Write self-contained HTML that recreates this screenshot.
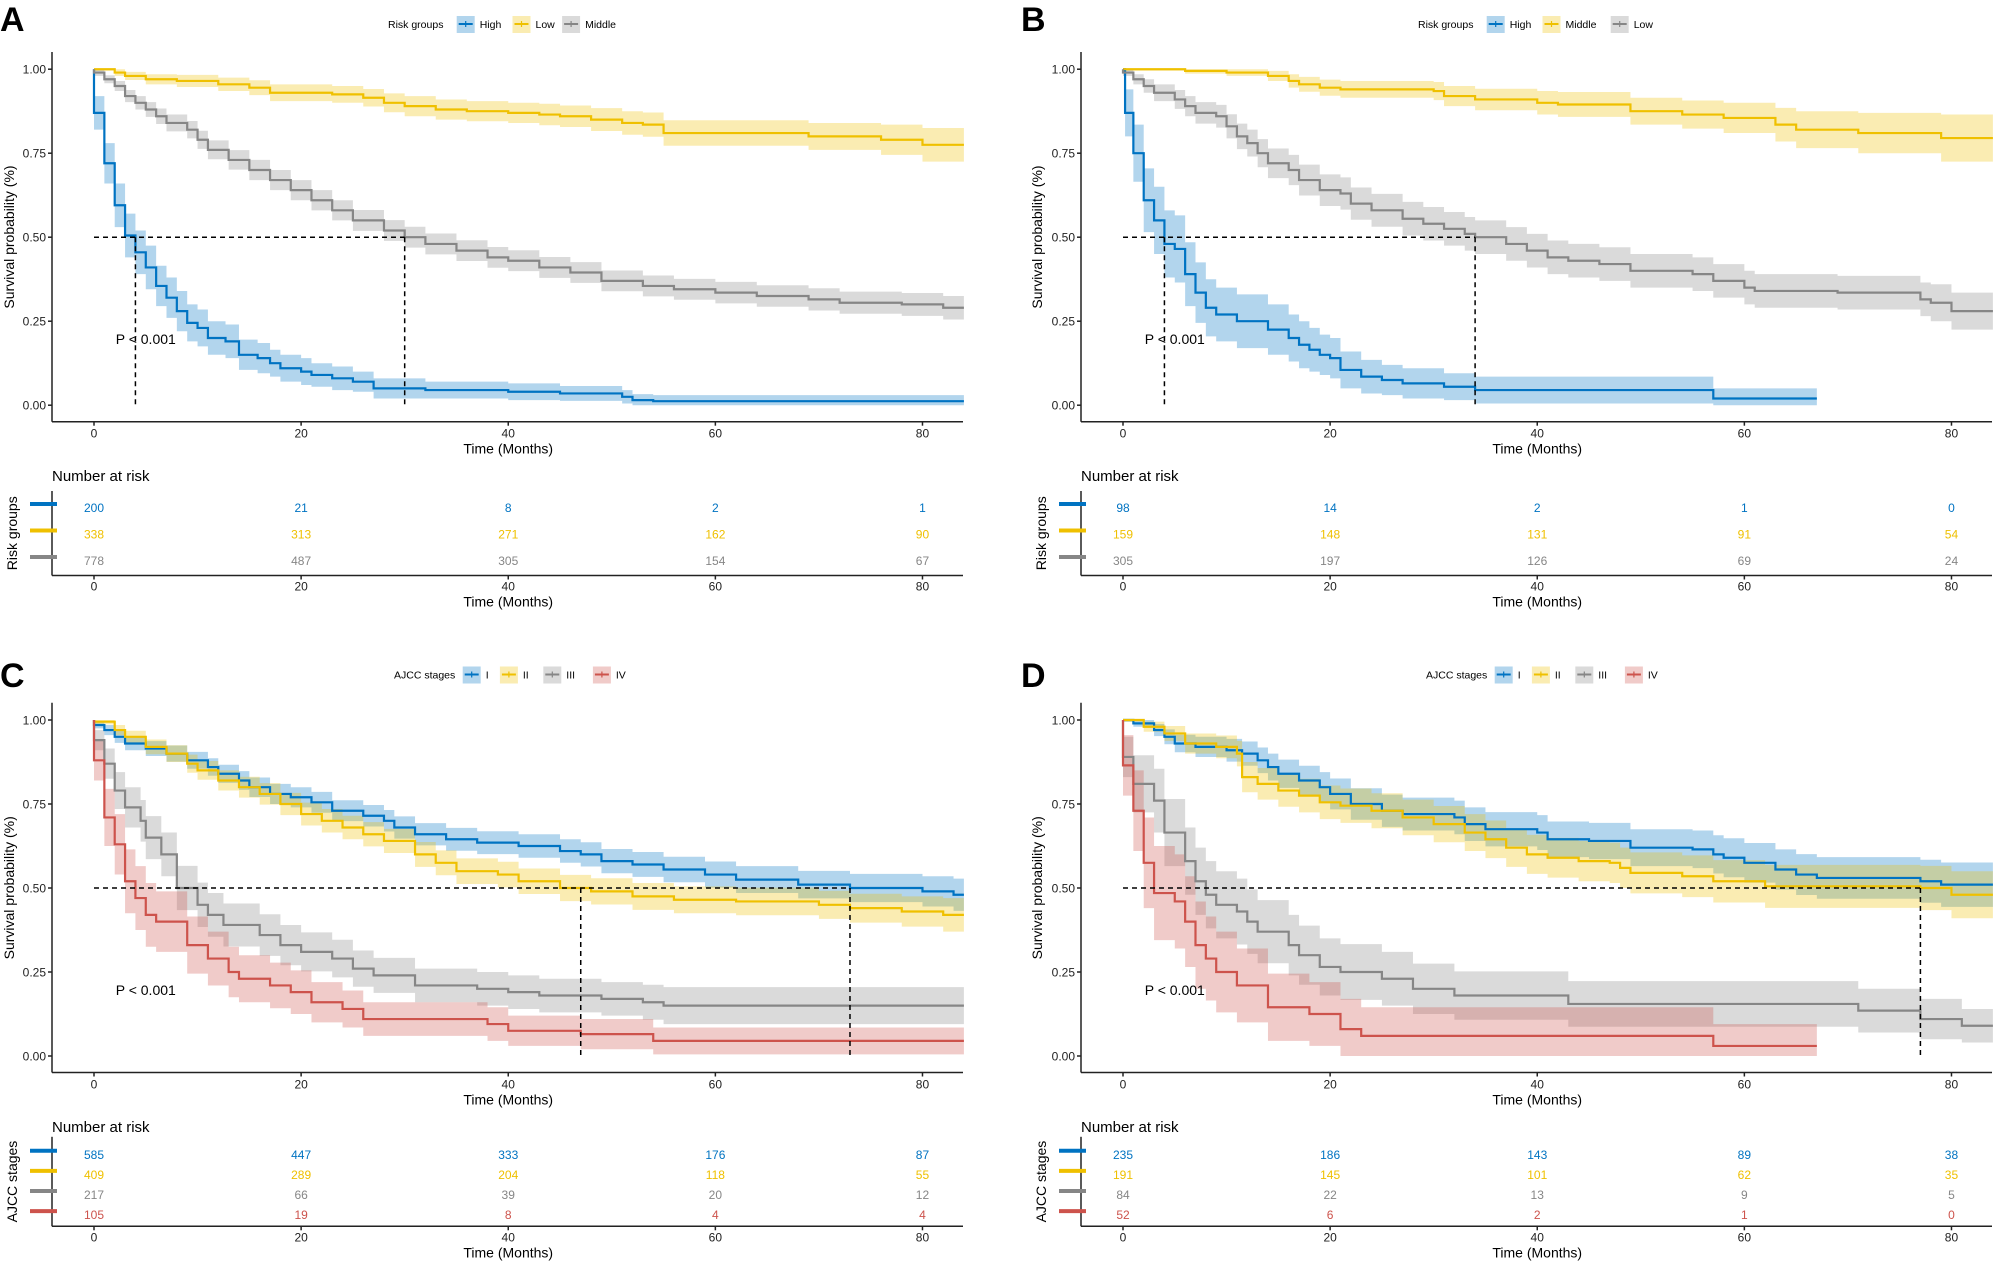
<!DOCTYPE html>
<html><head><meta charset="utf-8">
<style>
html,body{margin:0;padding:0;background:#fff;}
svg{display:block;font-family:"Liberation Sans",Arial,sans-serif;}
</style></head>
<body>
<svg id="fig" width="1994" height="1262" viewBox="0 0 1994 1262" xmlns="http://www.w3.org/2000/svg"></svg>
<script>
// ---------- DATA ----------
const timeTicks=[0,20,40,60,80];
const survTicks=[0,0.25,0.5,0.75,1];
const survTickLabels=["0.00","0.25","0.50","0.75","1.00"];
// Panel A
const aHighT=[0,1,2,3,4,5,6,7,8,9,10,11,12.7,14,15.8,17,18,20,21,23,25,27,32,40,45,51,52,54,84];
const aHighS=[0.87,0.72,0.595,0.505,0.455,0.41,0.355,0.32,0.28,0.245,0.23,0.2,0.19,0.15,0.14,0.125,0.11,0.1,0.09,0.08,0.07,0.05,0.045,0.04,0.035,0.025,0.015,0.012,0.012];
const aHighCI=[0.05,0.06,0.065,0.065,0.065,0.065,0.06,0.06,0.06,0.055,0.055,0.05,0.05,0.045,0.045,0.04,0.04,0.04,0.035,0.035,0.03,0.03,0.025,0.025,0.022,0.02,0.018,0.018,0.018];
const aLowT=[0,2,3,5,8,12,15,17,23,26,28,30,33,36,40,43,45,48,51,53,55,69,76,80,84];
const aLowS=[1,0.99,0.98,0.97,0.965,0.955,0.945,0.93,0.925,0.915,0.9,0.89,0.88,0.875,0.87,0.865,0.86,0.85,0.84,0.835,0.81,0.8,0.79,0.775,0.775];
const aLowCI=[0.005,0.01,0.012,0.015,0.018,0.02,0.022,0.025,0.025,0.026,0.028,0.03,0.03,0.03,0.03,0.032,0.032,0.034,0.035,0.036,0.038,0.04,0.045,0.05,0.05];
const aMidT=[0,1,2,3,4,5,6,7,9,10,11,13,15,17,19,21,23,25,28,30,32,35,38,40,43,46,49,53,56,60,64,69,72,78,82,84];
const aMidS=[0.99,0.97,0.95,0.92,0.9,0.88,0.86,0.84,0.82,0.79,0.76,0.73,0.7,0.67,0.64,0.61,0.58,0.55,0.52,0.5,0.48,0.46,0.44,0.43,0.41,0.395,0.37,0.355,0.345,0.335,0.325,0.315,0.305,0.3,0.29,0.29];
const aMidCI=[0.01,0.012,0.015,0.018,0.02,0.022,0.023,0.025,0.026,0.027,0.028,0.029,0.03,0.03,0.03,0.03,0.03,0.031,0.031,0.031,0.031,0.031,0.031,0.031,0.031,0.031,0.031,0.031,0.031,0.032,0.032,0.033,0.033,0.034,0.035,0.035];
const aRiskHigh=[200,21,8,2,1], aRiskLow=[338,313,271,162,90], aRiskMid=[778,487,305,154,67];
// Panel B
const bHighT=[0,0.2,1,2,3,4,5,6,7,8,9,11,14,16,17,18,19,20,21,23,25,27,31,34,57,67];
const bHighS=[1,0.87,0.75,0.61,0.55,0.48,0.465,0.39,0.335,0.29,0.27,0.25,0.225,0.2,0.18,0.165,0.15,0.14,0.105,0.085,0.075,0.065,0.055,0.045,0.02,0.02];
const bHighCI=[0,0.07,0.085,0.095,0.1,0.1,0.1,0.095,0.09,0.085,0.08,0.08,0.075,0.07,0.07,0.065,0.06,0.06,0.055,0.05,0.045,0.045,0.04,0.04,0.03,0.03];
const bMidT=[0,6,10,14,16,17,19,21,30,31,34,40,42,49,54,58,63,65,71,79,84];
const bMidS=[1,0.995,0.99,0.98,0.965,0.955,0.945,0.94,0.935,0.92,0.91,0.9,0.895,0.875,0.865,0.855,0.835,0.82,0.81,0.795,0.795];
const bMidCI=[0.005,0.008,0.01,0.015,0.02,0.022,0.024,0.025,0.027,0.03,0.032,0.035,0.037,0.04,0.042,0.045,0.05,0.055,0.06,0.07,0.07];
const bLowT=[0,1,2,3,5,6,7,9,10,11,12,13,14,16,17,19,21,22,24,27,29,31,33,34,37,39,41,43,46,49,55,57,60,61,69,77,78,80,84];
const bLowS=[0.99,0.97,0.95,0.93,0.91,0.89,0.87,0.86,0.83,0.8,0.78,0.75,0.72,0.7,0.67,0.64,0.63,0.6,0.58,0.555,0.54,0.525,0.51,0.5,0.48,0.46,0.44,0.43,0.42,0.4,0.39,0.37,0.35,0.34,0.335,0.315,0.305,0.28,0.28];
const bLowCI=[0.01,0.015,0.02,0.025,0.028,0.03,0.032,0.034,0.036,0.038,0.04,0.042,0.044,0.045,0.046,0.047,0.048,0.048,0.049,0.05,0.05,0.05,0.05,0.05,0.05,0.05,0.05,0.05,0.05,0.05,0.05,0.05,0.05,0.05,0.05,0.05,0.055,0.055,0.055];
const bRiskHigh=[98,14,2,1,0], bRiskMid=[159,148,131,91,54], bRiskLow=[305,197,126,69,24];
// Panel C
const cIT=[0,1,2,3,5,7,9,11,12,14,15,17,19,21,23,26,28,29,31,34,37,41,45,47,49,52,55,59,62,68,73,80,83,84];
const cIS=[0.985,0.97,0.95,0.93,0.915,0.9,0.88,0.86,0.84,0.82,0.8,0.78,0.77,0.755,0.73,0.715,0.7,0.68,0.66,0.645,0.635,0.625,0.61,0.6,0.58,0.57,0.555,0.54,0.525,0.51,0.5,0.49,0.48,0.48];
const cICI=[0.01,0.015,0.018,0.02,0.022,0.024,0.025,0.026,0.027,0.028,0.029,0.03,0.03,0.031,0.031,0.032,0.032,0.033,0.033,0.034,0.034,0.035,0.035,0.036,0.036,0.037,0.038,0.039,0.04,0.041,0.042,0.045,0.048,0.048];
const cIIT=[0,2,3,5,7,9,10,12,14,16,18,20,22,24,26,28,31,33,35,39,41,45,48,52,56,62,70,73,78,82,84];
const cIIS=[0.995,0.97,0.95,0.92,0.9,0.87,0.85,0.82,0.8,0.78,0.75,0.72,0.7,0.68,0.66,0.64,0.6,0.575,0.55,0.54,0.52,0.5,0.49,0.475,0.465,0.46,0.45,0.44,0.43,0.42,0.42];
const cIICI=[0.008,0.015,0.018,0.022,0.025,0.027,0.028,0.03,0.031,0.032,0.033,0.034,0.035,0.035,0.036,0.036,0.037,0.037,0.038,0.038,0.038,0.039,0.039,0.04,0.04,0.041,0.042,0.043,0.045,0.05,0.05];
const cIIIT=[0,1,2,3,4.5,5,6.5,8,10,11,12.5,16,18,20,23,25,27,31,37,40,43,49,53,55,84];
const cIIIS=[0.94,0.87,0.79,0.74,0.7,0.65,0.6,0.5,0.45,0.42,0.39,0.36,0.33,0.31,0.29,0.26,0.24,0.21,0.2,0.19,0.18,0.17,0.16,0.15,0.15];
const cIIICI=[0.03,0.045,0.055,0.06,0.062,0.064,0.065,0.066,0.066,0.065,0.064,0.062,0.06,0.058,0.056,0.054,0.052,0.05,0.05,0.05,0.05,0.05,0.052,0.055,0.06];
const cIVT=[0,1,2,3,4,5,6,9,11,13,14,17,19,21,24,26,38,40,47,54,84];
const cIVS=[0.88,0.71,0.63,0.52,0.47,0.42,0.4,0.33,0.29,0.25,0.23,0.21,0.19,0.16,0.14,0.11,0.095,0.075,0.065,0.045,0.045];
const cIVCI=[0.06,0.085,0.09,0.095,0.095,0.095,0.09,0.085,0.08,0.075,0.07,0.068,0.065,0.06,0.055,0.05,0.05,0.045,0.045,0.04,0.04];
const cRiskI=[585,447,333,176,87], cRiskII=[409,289,204,118,55], cRiskIII=[217,66,39,20,12], cRiskIV=[105,19,8,4,4];
// Panel D
const dIT=[0,1,3,4,5,7,10,11.5,13,14,15,17,19,20,22,25,27,32,33,35,40,41,45,49,55,57,58,60,63,65,67,77,79,84];
const dIS=[1,0.99,0.97,0.95,0.93,0.92,0.91,0.9,0.88,0.86,0.84,0.82,0.8,0.78,0.75,0.73,0.72,0.71,0.69,0.675,0.665,0.645,0.64,0.62,0.615,0.6,0.59,0.575,0.555,0.54,0.53,0.52,0.51,0.51];
const dICI=[0.005,0.01,0.018,0.022,0.026,0.03,0.034,0.036,0.038,0.04,0.042,0.044,0.045,0.046,0.047,0.048,0.049,0.05,0.05,0.051,0.052,0.053,0.054,0.055,0.056,0.057,0.058,0.059,0.06,0.061,0.062,0.064,0.066,0.066];
const dIIT=[0,2,4,6,9,11,11.5,13,15,17,19,21,24,27,30,33,35,37,39,41,44,47,48,49,54,57,62,77,80,84];
const dIIS=[1,0.98,0.96,0.93,0.92,0.9,0.83,0.81,0.79,0.775,0.755,0.745,0.73,0.71,0.69,0.665,0.645,0.62,0.6,0.59,0.58,0.575,0.56,0.545,0.535,0.52,0.505,0.5,0.48,0.48];
const dIICI=[0.005,0.015,0.022,0.03,0.034,0.038,0.045,0.047,0.048,0.05,0.05,0.051,0.052,0.053,0.054,0.055,0.056,0.057,0.058,0.059,0.06,0.06,0.06,0.061,0.062,0.063,0.064,0.066,0.07,0.07];
const dIIIT=[0,1,3,4,6,7,8,9,11,12,13,16,17,19,21,25,28,32,43,71,77,81,84];
const dIIIS=[0.89,0.81,0.76,0.665,0.58,0.52,0.48,0.45,0.43,0.4,0.37,0.33,0.3,0.265,0.25,0.23,0.2,0.18,0.155,0.135,0.11,0.09,0.09];
const dIIICI=[0.06,0.085,0.095,0.1,0.1,0.1,0.1,0.1,0.098,0.096,0.094,0.09,0.088,0.085,0.083,0.08,0.075,0.072,0.068,0.065,0.06,0.05,0.05];
const dIVT=[0,1,2,3,5,6,7,8,9,11,14,18,21,23,57,67];
const dIVS=[0.865,0.73,0.575,0.485,0.46,0.4,0.33,0.29,0.25,0.21,0.145,0.125,0.08,0.06,0.03,0.03];
const dIVCI=[0.09,0.12,0.135,0.14,0.14,0.135,0.13,0.125,0.12,0.11,0.1,0.095,0.09,0.085,0.065,0.06];
const dRiskI=[235,186,143,89,38], dRiskII=[191,145,101,62,35], dRiskIII=[84,22,13,9,5], dRiskIV=[52,6,2,1,0];

const BLUE="#0073C2", YEL="#EFC000", GRAY="#868686", RED="#CD534C";
const panels=[
 {id:"a",letter:"A",dx:0,dy:0,legTitle:"Risk groups",legX:388,tableTitle:"Risk groups",
  curves:[{n:"High",t:aHighT,s:aHighS,ci:aHighCI,c:BLUE},{n:"Low",t:aLowT,s:aLowS,ci:aLowCI,c:YEL},{n:"Middle",t:aMidT,s:aMidS,ci:aMidCI,c:GRAY}],
  risk:[aRiskHigh,aRiskLow,aRiskMid],medH:30,medV:[4,30]},
 {id:"b",letter:"B",dx:1029,dy:0,legTitle:"Risk groups",legX:1418,tableTitle:"Risk groups",
  curves:[{n:"High",t:bHighT,s:bHighS,ci:bHighCI,c:BLUE},{n:"Middle",t:bMidT,s:bMidS,ci:bMidCI,c:YEL},{n:"Low",t:bLowT,s:bLowS,ci:bLowCI,c:GRAY}],
  risk:[bRiskHigh,bRiskMid,bRiskLow],medH:34,medV:[4,34]},
 {id:"c",letter:"C",dx:0,dy:650.8,legTitle:"AJCC stages",legX:394,tableTitle:"AJCC stages",
  curves:[{n:"I",t:cIT,s:cIS,ci:cICI,c:BLUE},{n:"II",t:cIIT,s:cIIS,ci:cIICI,c:YEL},{n:"III",t:cIIIT,s:cIIIS,ci:cIIICI,c:GRAY},{n:"IV",t:cIVT,s:cIVS,ci:cIVCI,c:RED}],
  risk:[cRiskI,cRiskII,cRiskIII,cRiskIV],medH:73,medV:[47,73]},
 {id:"d",letter:"D",dx:1029,dy:650.8,legTitle:"AJCC stages",legX:1426,tableTitle:"AJCC stages",
  curves:[{n:"I",t:dIT,s:dIS,ci:dICI,c:BLUE},{n:"II",t:dIIT,s:dIIS,ci:dIICI,c:YEL},{n:"III",t:dIIIT,s:dIIIS,ci:dIIICI,c:GRAY},{n:"IV",t:dIVT,s:dIVS,ci:dIVCI,c:RED}],
  risk:[dRiskI,dRiskII,dRiskIII,dRiskIV],medH:77,medV:[77]}
];

const NS="http://www.w3.org/2000/svg";
const svg=document.getElementById("fig");
function el(tag,attrs,parent,txt){const e=document.createElementNS(NS,tag);for(const k in attrs)e.setAttribute(k,attrs[k]);if(txt!==undefined)e.textContent=txt;(parent||svg).appendChild(e);return e;}

panels.forEach(p=>{
  const g=el("g",{});
  
  
  const X=t=>p.dx+94+t*10.356;
  const Y=s=>p.dy+405.2-s*336;
  const axL=p.dx+52, axB=p.dy+421.7, axT=p.dy+52, axR=Math.min(p.dx+963,1994);
  // letter
  const L=el("text",{x:(p.dx?1021:0),y:p.dy+(p.dy?36:31),"font-size":34,"font-weight":"bold"},g,p.letter);
  
  
  // legend
  const lg=el("g",{},g);
  
  
  let lx=p.legX, ly=p.dy+(p.dy?23.7:24);
  el("text",{x:lx,y:ly+4,"font-size":10.5},lg,p.legTitle);
  lx+=p.legTitle.length*5.7+6;
  p.curves.forEach(c=>{
    const e=el("g",{},lg);
    
    
    el("rect",{x:lx,y:ly-8,width:18,height:17,fill:c.c,"fill-opacity":0.3},e);
    el("line",{x1:lx+2,x2:lx+16,y1:ly,y2:ly,stroke:c.c,"stroke-width":2},e);
    el("line",{x1:lx+9,x2:lx+9,y1:ly-3,y2:ly+3,stroke:c.c,"stroke-width":1.2},e);
    el("text",{x:lx+23,y:ly+4,"font-size":10.5},e,c.n);
    lx+=23+c.n.length*6.2+8;
  });
  // bands
  p.curves.forEach(c=>{
    let up="",lo="";
    for(let i=0;i<c.t.length;i++){
      const x1=X(c.t[i]), x2=X(i+1<c.t.length?c.t[i+1]:c.t[i]);
      const hi=Math.min(1,c.s[i]+c.ci[i]), lw=Math.max(0,c.s[i]-c.ci[i]);
      up+=(i?"L":"M")+x1+","+Y(hi)+"L"+x2+","+Y(hi);
      lo="L"+x2+","+Y(lw)+"L"+x1+","+Y(lw)+lo;
    }
    const b=el("path",{d:up+lo+"Z",fill:c.c,"fill-opacity":0.3,stroke:"none"},g);
    
    
  });
  // curves
  p.curves.forEach(c=>{
    let d="M"+X(0)+","+Y(1);
    for(let i=0;i<c.t.length;i++){d+="L"+X(c.t[i])+","+Y(i?c.s[i-1]:1)+"L"+X(c.t[i])+","+Y(c.s[i]);}
    const ln=el("path",{d:d,fill:"none",stroke:c.c,"stroke-width":2.2},g);
    
    
  });
  // median lines
  const ml=el("g",{stroke:"#000","stroke-width":1.5,"stroke-dasharray":"5,4",fill:"none"},g);
  
  
  el("line",{x1:X(0),x2:X(p.medH),y1:Y(0.5),y2:Y(0.5)},ml);
  p.medV.forEach(m=>el("line",{x1:X(m),x2:X(m),y1:Y(0.5),y2:Y(0)},ml));
  // p value
  const pv=el("text",{x:X(2.1),y:Y(0.2)+6,"font-size":14},g,"P < 0.001");
  
  
  // axes
  const ax=el("g",{stroke:"#222","stroke-width":1.5},g);
  
  
  el("line",{x1:axL,x2:axL,y1:axT,y2:axB},ax);
  el("line",{x1:axL,x2:axR,y1:axB,y2:axB},ax);
  survTicks.forEach((s,i)=>{
    el("line",{x1:axL-4,x2:axL,y1:Y(s),y2:Y(s)},ax);
    const t=el("text",{x:axL-6,y:Y(s)+4.5,"font-size":12,"text-anchor":"end",stroke:"none",fill:"#222"},g,survTickLabels[i]);
    
    
  });
  timeTicks.forEach(t=>{
    el("line",{x1:X(t),x2:X(t),y1:axB,y2:axB+4},ax);
    const tl=el("text",{x:X(t),y:axB+16,"font-size":12,"text-anchor":"middle",fill:"#222"},g,String(t));
    
    
  });
  const xt=el("text",{x:X(40),y:axB+32,"font-size":14,"text-anchor":"middle"},g,"Time (Months)");
  
  
  const ytx=p.dx+(p.dx?8:9), yty=p.dy+237;
  const yt=el("text",{x:ytx,y:yty,"font-size":14,"text-anchor":"middle",transform:"rotate(-90 "+ytx+" "+yty+")",dy:5},g,"Survival probability (%)");
  
  
  // risk table
  const n=p.risk.length;
  const tb=el("g",{},g);
  
  
  el("text",{x:axL,y:p.dy+481,"font-size":15},tb,"Number at risk");
  const tAxB=p.dy+575.5, tTop=p.dy+(n===3?491:486);
  const rowY=i=> n===3 ? p.dy+507+i*26.5 : p.dy+503+i*20.1;
  el("line",{x1:axL,x2:axL,y1:tTop,y2:tAxB,stroke:"#222","stroke-width":1.5},tb);
  el("line",{x1:axL,x2:axR,y1:tAxB,y2:tAxB,stroke:"#222","stroke-width":1.5},tb);
  p.risk.forEach((row,i)=>{
    const c=p.curves[i].c;
    el("line",{x1:axL-22,x2:axL+5,y1:rowY(i)-3,y2:rowY(i)-3,stroke:c,"stroke-width":4},tb);
    row.forEach((v,j)=>{
      const rt=el("text",{x:X(timeTicks[j]),y:rowY(i)+5,"font-size":12,"text-anchor":"middle",fill:c},tb,String(v));
      
      
    });
  });
  timeTicks.forEach(t=>{
    el("line",{x1:X(t),x2:X(t),y1:tAxB,y2:tAxB+4,stroke:"#222","stroke-width":1.5},tb);
    el("text",{x:X(t),y:tAxB+15,"font-size":12,"text-anchor":"middle",fill:"#222"},tb,String(t));
  });
  el("text",{x:X(40),y:tAxB+31,"font-size":14,"text-anchor":"middle"},tb,"Time (Months)");
  const tyx=p.dx+12, tyy=(tTop+tAxB)/2;
  el("text",{x:tyx,y:tyy,"font-size":14,"text-anchor":"middle",transform:"rotate(-90 "+tyx+" "+tyy+")",dy:5},tb,p.tableTitle);
});
</script>
</body></html>
